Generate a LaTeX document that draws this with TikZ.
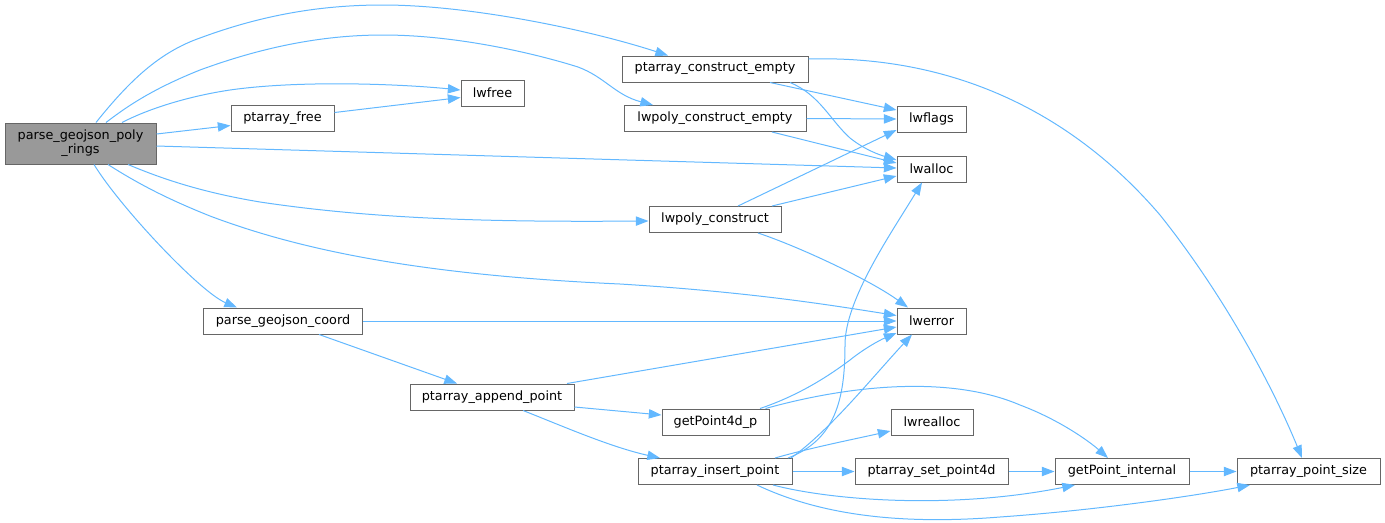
\documentclass[tikz,border=0pt]{standalone}
\usepackage{fontspec}
\setmainfont{DejaVu Sans}
\usetikzlibrary{arrows.meta,calc}
\definecolor{edgec}{HTML}{63B8FF}
\definecolor{nodeb}{HTML}{666666}
\definecolor{rootf}{HTML}{999999}
\begin{document}
\begin{tikzpicture}[x=0.75pt,y=-0.75pt,
  fn/.style={draw=nodeb, line width=0.75pt, fill=white, inner sep=0pt,
    minimum height=19.5pt, font=\fontsize{9.6}{10.5}\selectfont, text=black},
  rootnode/.style={fn, fill=rootf, minimum height=30.75pt, align=center},
  ed/.style={draw=edgec, line width=0.75pt, -{Triangle[length=9.5pt,width=7pt]}}]
\useasboundingbox (0,0) rectangle (1385,522);
% nodes
\node[rootnode, minimum width=113.25pt] (root) at (80.5,143.5) {parse\_geojson\_poly\\\_rings};
\node[fn, minimum width=47.25pt] (lwfree) at (492.5,93) {lwfree};
\node[fn, minimum width=77.25pt] (ptfree) at (282.5,118.5) {ptarray\_free};
\node[fn, minimum width=139.5pt] (pce) at (715,69) {ptarray\_construct\_empty};
\node[fn, minimum width=136.5pt] (lpce) at (715,118.5) {lwpoly\_construct\_empty};
\node[fn, minimum width=99pt] (lpc) at (715,219.5) {lwpoly\_construct};
\node[fn, minimum width=51.75pt] (lwflags) at (931.5,119) {lwflags};
\node[fn, minimum width=51.75pt] (lwalloc) at (931.5,169) {lwalloc};
\node[fn, minimum width=119.25pt] (pgc) at (283,321) {parse\_geojson\_coord};
\node[fn, minimum width=51.75pt] (lwerror) at (931.5,321) {lwerror};
\node[fn, minimum width=123pt] (pap) at (492,397) {ptarray\_append\_point};
\node[fn, minimum width=80.25pt] (gp4) at (715.5,422) {getPoint4d\_p};
\node[fn, minimum width=115.5pt] (pip) at (715,471.5) {ptarray\_insert\_point};
\node[fn, minimum width=61.5pt] (lwrealloc) at (932,422) {lwrealloc};
\node[fn, minimum width=114.75pt] (psp4d) at (931.5,471.5) {ptarray\_set\_point4d};
\node[fn, minimum width=100.5pt] (gpi) at (1122,471.5) {getPoint\_internal};
\node[fn, minimum width=107.25pt] (pps) at (1308.5,471.5) {ptarray\_point\_size};
% edges from root
\draw[ed] ($(root.north)+(15.5,0)$) .. controls (130,80) and (160,52) .. (200,38)
  .. controls (270,12) and (330,5) .. (383,5)
  .. controls (470,5) and (590,30) .. ($(pce.north)+(-47,0)$);
\draw[ed] ($(root.north)+(25.5,0)$) .. controls (125,108) and (150,90) .. (200,70)
  .. controls (260,48) and (320,35) .. (383,35)
  .. controls (460,35) and (540,55) .. (578,67)
  .. controls (605,77) and (615,95) .. ($(lpce.north)+(-62,0)$);
\draw[ed] ($(root.north)+(41.5,0)$) .. controls (150,108) and (190,96) .. (230,90)
  .. controls (300,80) and (400,84) .. ($(lwfree.west)+(0,-3)$);
\draw[ed] ($(root.east)+(0,-9.5)$) -- ($(ptfree.west)+(0,7)$);
\draw[ed] ($(ptfree.east)+(0,-6)$) -- ($(lwfree.west)+(0,4.5)$);
\draw[ed] ($(root.east)+(0,2.5)$) -- ($(lwalloc.west)+(0,-1)$);
\draw[ed] ($(root.south)+(47.5,0)$) .. controls (160,178) and (200,192) .. (260,202)
  .. controls (380,220) and (500,222) .. ($(lpc.west)+(0,1.5)$);
\draw[ed] ($(root.south)+(27.5,0)$) .. controls (140,185) and (170,200) .. (210,216)
  .. controls (300,250) and (420,275) .. (620,284)
  .. controls (750,292) and (830,305) .. ($(lwerror.west)+(0,-5.5)$);
\draw[ed] ($(root.south)+(13.5,0)$) .. controls (120,207) and (200,292) .. ($(pgc.north)+(-46,0)$);
% parse_geojson_coord
\draw[ed] (pgc.east) -- (lwerror.west);
\draw[ed] ($(pgc.south)+(36,0)$) -- ($(pap.north)+(-35,0)$);
% ptarray_append_point
\draw[ed] ($(pap.north)+(75,0)$) -- ($(lwerror.west)+(0,6)$);
\draw[ed] ($(pap.east)+(0,10)$) -- ($(gp4.west)+(0,-7)$);
\draw[ed] ($(pap.south)+(31,0)$) .. controls (560,425) and (610,447) .. ($(pip.north)+(-55,0)$);
% ptarray_construct_empty
\draw[ed] ($(pce.south)+(55,0)$) -- ($(lwflags.west)+(0,-9)$);
\draw[ed] ($(pce.south)+(75,0)$) .. controls (820,95) and (830,120) .. (850,138)
  .. controls (865,150) and (880,155) .. ($(lwalloc.west)+(0,-9)$);
\draw[ed] ($(pce.east)+(0,-10)$) .. controls (950,55) and (1070,110) .. (1160,215)
  .. controls (1220,290) and (1270,380) .. ($(pps.north)+(-6.5,0)$);
% lwpoly_construct_empty
\draw[ed] (lpce.east) -- (lwflags.west);
\draw[ed] ($(lpce.south)+(57,0)$) -- ($(lwalloc.west)+(0,-6)$);
% lwpoly_construct
\draw[ed] ($(lpc.north)+(23,0)$) -- ($(lwflags.west)+(0,11)$);
\draw[ed] ($(lpc.north)+(57,0)$) -- ($(lwalloc.west)+(0,7)$);
\draw[ed] ($(lpc.south)+(43,0)$) .. controls (800,247) and (870,280) .. ($(lwerror.north)+(-23.5,0)$);
% getPoint4d_p
\draw[ed] ($(gp4.north)+(44.5,0)$) .. controls (800,395) and (830,375) .. (850,360)
  .. controls (865,348) and (880,340) .. ($(lwerror.west)+(0,12)$);
\draw[ed] ($(gp4.north)+(50,0)$) .. controls (850,385) and (950,375) .. (1020,405)
  .. controls (1060,420) and (1090,442) .. ($(gpi.north)+(-14,0)$);
% ptarray_insert_point
\draw[ed] ($(pip.north)+(73,0)$) .. controls (835,440) and (845,400) .. (845,345)
  .. controls (845,300) and (890,235) .. ($(lwalloc.south)+(-9.5,0)$);
\draw[ed] ($(pip.north)+(76,0)$) .. controls (830,430) and (870,380) .. ($(lwerror.south)+(-19.5,0)$);
\draw[ed] ($(pip.north)+(60,0)$) .. controls (810,448) and (850,440) .. ($(lwrealloc.west)+(0,9)$);
\draw[ed] (pip.east) -- (psp4d.west);
\draw[ed] ($(pip.south)+(58,0)$) .. controls (830,500) and (950,510) .. ($(gpi.south)+(-47,0)$);
\draw[ed] ($(pip.south)+(42,0)$) .. controls (820,515) and (900,525) .. (1000,517)
  .. controls (1100,510) and (1200,495) .. ($(pps.south)+(-58.5,0)$);
\draw[ed] (psp4d.east) -- (gpi.west);
\draw[ed] (gpi.east) -- (pps.west);
\end{tikzpicture}
\end{document}
